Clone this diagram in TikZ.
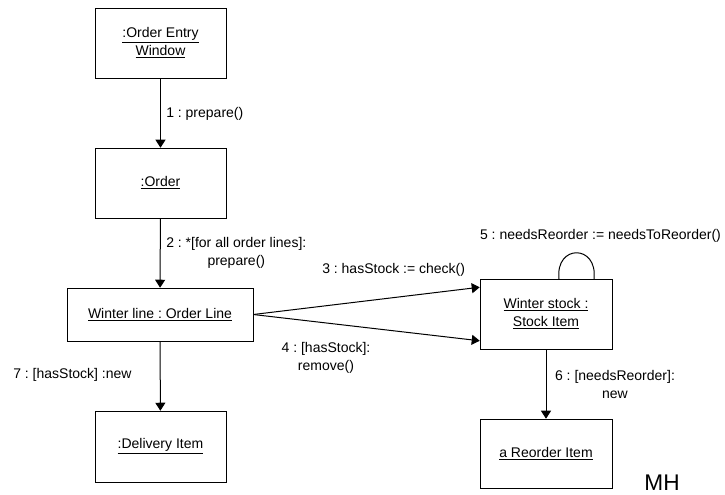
\documentclass[tikz,border=0pt]{standalone}
\usepackage{fontspec}
\setmainfont{Liberation Sans}
\usetikzlibrary{arrows.meta}
\frenchspacing

\begin{document}
\begin{tikzpicture}[x=0.75pt,y=0.75pt,yscale=-1,xscale=1,
  obj/.style={draw, inner sep=0pt, align=center, font=\fontsize{10.5}{13.5}\selectfont},
  lbl/.style={inner sep=0.75pt, align=center, font=\fontsize{10.5}{13.5}\selectfont},
  msg/.style={-{Triangle[length=6pt,width=7.5pt]}, line width=0.75pt}]
\useasboundingbox (0,0) rectangle (725,494);
% Objects
\node [obj, minimum width=98.25pt, minimum height=52.5pt] (oew) at (160.5,43) {\underline{:Order Entry}\\\underline{Window}};
\node [obj, minimum width=98.25pt, minimum height=52.5pt] (ord) at (160.5,183) {\underline{:Order}};
\node [obj, minimum width=139.5pt, minimum height=39.75pt] (wline) at (160,314.5) {\underline{Winter line : Order Line}};
\node [obj, minimum width=98.25pt, minimum height=53.25pt] (deliv) at (160.5,446.5) {\underline{:Delivery Item}};
\node [obj, minimum width=99pt, minimum height=52.5pt] (stock) at (546,314) {\underline{Winter stock :}\\\underline{Stock Item}};
\node [obj, minimum width=99pt, minimum height=51.75pt] (reord) at (546,453.5) {\underline{a Reorder Item}};
% Messages
\draw [msg] (oew) -- (ord);
\draw [msg] (ord) -- (wline);
\draw [msg] (wline) -- (deliv);
\draw [msg] (wline.east) -- (stock.158);
\draw [msg] (wline.east) -- (stock.202);
\draw [msg] (stock) -- (reord);
% self loop
\coordinate (loopL) at (559,279);
\coordinate (loopR) at (594,279);
\draw [line width=0.75pt] (loopL) .. controls (555,244) and (598,244) .. (loopR);
% Text Node
\draw (165,114) node [lbl, anchor=west] (m1) {1 : prepare()};
% Text Node
\draw (165,252.5) node [lbl, anchor=west] (m2) {2 : *[for all order lines]:\\prepare()};
% Text Node
\draw (321,270) node [lbl, anchor=west] (m3) {3 : hasStock := check()};
% Text Node
\draw (326,358) node [lbl] (m4) {4 : [hasStock]:\\remove()};
% Text Node
\draw (600.5,236) node [lbl] (m5) {5 : needsReorder := needsToReorder()};
% Text Node
\draw (615,384.5) node [lbl] (m6) {6 : [needsReorder]:\\new};
% Text Node
\draw (12,375) node [lbl, anchor=west] (m7) {7 : [hasStock] :new};
% Text Node
\draw (662,483) node [inner sep=0pt, font=\fontsize{17}{20}\selectfont] (mh) {MH};
\end{tikzpicture}
\end{document}
